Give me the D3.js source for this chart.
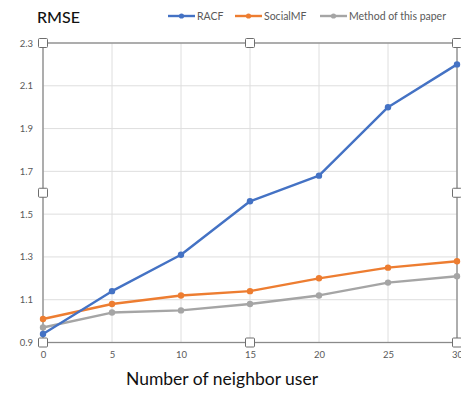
<!DOCTYPE html>
<html>
<head>
<meta charset="utf-8">
<script src="https://cdn.jsdelivr.net/npm/d3@7"></script>
<style>
  html, body { margin: 0; padding: 0; background: #fff; overflow: hidden; }
  svg { display: block; font-family: "Lato", "Open Sans", sans-serif; }
</style>
</head>
<body>
<svg id="chart" width="461" height="394"></svg>
<script>
// Neighbour counts on the x axis
const neighbors = [0, 5, 10, 15, 20, 25, 30];
// RMSE for each method
const racf = [0.94, 1.14, 1.31, 1.56, 1.68, 2.00, 2.20];
const socialMF = [1.01, 1.08, 1.12, 1.14, 1.20, 1.25, 1.28];
const methodOfPaper = [0.97, 1.04, 1.05, 1.08, 1.12, 1.18, 1.21];
// Axis ticks
const yTicks = [0.9, 1.1, 1.3, 1.5, 1.7, 1.9, 2.1, 2.3];
const xTicks = [0, 5, 10, 15, 20, 25, 30];

const seriesNames = ["RACF", "SocialMF", "Method of this paper"];
const seriesValues = [racf, socialMF, methodOfPaper];
const colors = ["#4472C4", "#ED7D31", "#A5A5A5"];

const svg = d3.select("#chart");
const plotLeft = 43, plotRight = 457, plotTop = 43, plotBottom = 342.5;

const x = d3.scaleLinear().domain([0, 30]).range([plotLeft, plotRight]);
const y = d3.scaleLinear().domain([0.9, 2.3]).range([plotBottom, plotTop]);

// Gridlines
const grid = svg.append("g");
grid.selectAll("line.h").data(yTicks).join("line")
  .attr("x1", plotLeft).attr("x2", plotRight)
  .attr("y1", d => y(d)).attr("y2", d => y(d))
  .attr("stroke", "#dedede").attr("stroke-width", 1);
grid.selectAll("line.v").data(xTicks).join("line")
  .attr("y1", plotTop).attr("y2", plotBottom)
  .attr("x1", d => x(d)).attr("x2", d => x(d))
  .attr("stroke", "#dedede").attr("stroke-width", 1);

// Frame around the plot area
svg.append("rect")
  .attr("x", plotLeft).attr("y", plotTop)
  .attr("width", plotRight - plotLeft).attr("height", plotBottom - plotTop)
  .attr("fill", "none").attr("stroke", "#8a8a8a").attr("stroke-width", 1.3);

// Axes (labels only)
const yAxis = d3.axisLeft(y).tickValues(yTicks).tickFormat(d3.format(".1f")).tickSize(0).tickPadding(10);
const gy = svg.append("g").attr("transform", `translate(${plotLeft},0)`).call(yAxis);
gy.select(".domain").remove();
gy.selectAll("text").attr("fill", "#595959").style("font-size", "9.5px").style("font-family", "Lato, sans-serif");

const xAxis = d3.axisBottom(x).tickValues(xTicks).tickFormat(d3.format("d")).tickSize(0).tickPadding(9);
const gx = svg.append("g").attr("transform", `translate(0,${plotBottom})`).call(xAxis);
gx.select(".domain").remove();
gx.selectAll("text").attr("fill", "#595959").style("font-size", "9.5px").style("font-family", "Lato, sans-serif");

// Series lines and markers
const line = d3.line().x((d, i) => x(neighbors[i])).y(d => y(d));
seriesValues.slice().reverse().forEach((vals, ri) => {
  const i = seriesValues.length - 1 - ri;
  const g = svg.append("g");
  g.append("path").datum(vals).attr("d", line)
    .attr("fill", "none").attr("stroke", colors[i]).attr("stroke-width", 2.4)
    .attr("stroke-linejoin", "round");
  g.selectAll("circle").data(vals).join("circle")
    .attr("cx", (d, j) => x(neighbors[j])).attr("cy", d => y(d))
    .attr("r", 3.2).attr("fill", colors[i]);
});

// Selection handles on the frame
const handles = [
  [plotLeft, plotTop], [(plotLeft + plotRight) / 2, plotTop], [plotRight, plotTop],
  [plotLeft, (plotTop + plotBottom) / 2], [plotRight, (plotTop + plotBottom) / 2],
  [plotLeft, plotBottom], [(plotLeft + plotRight) / 2, plotBottom], [plotRight, plotBottom]
];
svg.selectAll("rect.handle").data(handles).join("rect")
  .attr("class", "handle")
  .attr("x", d => d[0] - 4.5).attr("y", d => d[1] - 4.5)
  .attr("width", 9).attr("height", 9).attr("rx", 1)
  .attr("fill", "#fff").attr("stroke", "#6e6e6e").attr("stroke-width", 1);

// Title
svg.append("text").attr("x", 37).attr("y", 23)
  .attr("fill", "#111").style("font-size", "16px").style("font-weight", 500).text("RMSE");

// Legend
const legendX = [168, 235, 320];
const lg = svg.append("g");
seriesNames.forEach((name, i) => {
  const lx = legendX[i];
  lg.append("line").attr("x1", lx).attr("x2", lx + 27).attr("y1", 16).attr("y2", 16)
    .attr("stroke", colors[i]).attr("stroke-width", 2.4);
  lg.append("circle").attr("cx", lx + 13.5).attr("cy", 16).attr("r", 2.6).attr("fill", colors[i]);
  lg.append("text").attr("x", lx + 29).attr("y", 19.5)
    .attr("fill", "#595959").style("font-size", "10.5px").text(name);
});

// X axis title
svg.append("text").attr("x", 222).attr("y", 385)
  .attr("text-anchor", "middle").attr("fill", "#111")
  .style("font-size", "17.5px").text("Number of neighbor user");
</script>
</body>
</html>
